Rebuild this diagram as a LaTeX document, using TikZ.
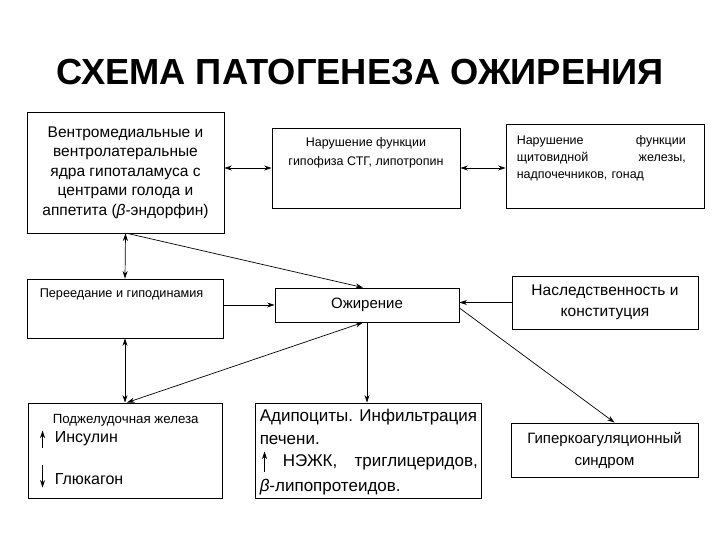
\documentclass[tikz,border=0pt]{standalone}
\usepackage{fontspec}
\setmainfont{Liberation Sans}
\usetikzlibrary{positioning,arrows.meta}

\begin{document}
\begin{tikzpicture}[%
  x=1pt, y=-1pt,
  >={Stealth[length=7.5pt,width=5pt]},
  blok/.style={
    draw,
    line width=0.9pt,
    inner sep=0pt,},
  txt/.style={inner sep=0pt},
  pil/.style={->, line width=0.7pt},
  dpil/.style={<->, line width=0.7pt},
  ]
  \useasboundingbox (0,0) rectangle (720,540);
  %% Title
  \node[txt, font=\bfseries\fontsize{36.3}{42}\selectfont] (titel) at (360,72) {СХЕМА ПАТОГЕНЕЗА ОЖИРЕНИЯ};
  %% Boxes
  \node[blok, minimum width=197pt, minimum height=121pt, align=center,
    font=\fontsize{15.5}{19.5}\selectfont] (hyp) at (125.5,172.5)
    {Вентромедиальные и\\вентролатеральные\\ядра гипоталамуса с\\центрами голода и\\аппетита ({\itshape β}-эндорфин)};
  \node[blok, minimum width=188pt, minimum height=80pt] (gip) at (366,168) {};
  \node[txt, align=center, font=\fontsize{12.5}{18.5}\selectfont, below=10pt of gip.north] (giptxt)
    {Нарушение функции\\гипофиза СТГ, липотропин};
  \node[blok, minimum width=198pt, minimum height=84pt] (shch) at (605,166) {};
  \node[txt, align=left, text width=169pt, font=\fontsize{12.5}{17}\selectfont,
    below right=12pt and 11pt of shch.north west] (shchtxt)
    {Нарушение\hfill функции\\щитовидной\hfill железы,\\надпочечников, гонад};
  \node[blok, minimum width=196pt, minimum height=59pt] (over) at (125,308.5) {};
  \node[txt, font=\fontsize{12.7}{15}\selectfont, below right=10pt and 13pt of over.north west] (overtxt)
    {Переедание и гиподинамия};
  \node[blok, minimum width=184pt, minimum height=34pt, font=\fontsize{15}{18}\selectfont] (obes) at (367,305) {Ожирение};
  \node[blok, minimum width=186pt, minimum height=53pt, align=center,
    font=\fontsize{15.5}{21}\selectfont] (hered) at (605,302.5) {Наследственность и\\конституция};
  \node[blok, minimum width=194pt, minimum height=95pt] (panc) at (125,450.5) {};
  \node[txt, anchor=base west, font=\fontsize{13.3}{15}\selectfont] (panctxt)
    at ([shift={(25,21)}]panc.north west) {Поджелудочная железа};
  \node[txt, anchor=base west, font=\fontsize{16}{19}\selectfont] (ins)
    at ([shift={(27,40)}]panc.north west) {Инсулин};
  \node[txt, anchor=base west, font=\fontsize{16}{19}\selectfont] (glu)
    at ([shift={(27,82)}]panc.north west) {Глюкагон};
  \node[blok, minimum width=226pt, minimum height=95pt] (adip) at (368,450.5) {};
  \node[txt, anchor=base west, font=\fontsize{17}{20}\selectfont] (adip1)
    at ([shift={(5,19)}]adip.north west) {Адипоциты. Инфильтрация};
  \node[txt, anchor=base west, font=\fontsize{17}{20}\selectfont] (adip2)
    at ([shift={(5,42)}]adip.north west) {печени.};
  \node[txt, anchor=base west, align=left, text width=195pt, font=\fontsize{17}{20}\selectfont] (adip3)
    at ([shift={(28,64)}]adip.north west) {НЭЖК,\hfill триглицеридов,};
  \node[txt, anchor=base west, font=\fontsize{17}{20}\selectfont] (adip4)
    at ([shift={(5,89)}]adip.north west) {{\itshape β}-липопротеидов.};
  \node[blok, minimum width=187pt, minimum height=54pt, align=center,
    font=\fontsize{15}{22}\selectfont] (coag) at (604.5,450) {Гиперкоагуляционный\\синдром};
  %% Small arrows in the boxes
  \draw[pil] ([shift={(-12,5)}]ins.base west) -- ([shift={(-12,-12)}]ins.base west);
  \draw[pil] ([shift={(-12,-20)}]glu.base west) -- ([shift={(-12,3)}]glu.base west);
  \draw[pil] ([shift={(-18,5)}]adip3.base west) -- ([shift={(-18,-15)}]adip3.base west);
  %% Edges
  \draw[dpil] (gip.west -| hyp.east) -- (gip.west);
  \draw[dpil] (gip.east) -- (gip.east -| shch.west);
  \draw[dpil] (hyp.south) -- (over.north);
  \draw[pil] ([xshift=2pt]hyp.south) -- ([xshift=-4pt]obes.north);
  \draw[pil] (obes.west -| over.east) -- (obes.west);
  \draw[dpil] (over.south) -- (panc.north);
  \draw[dpil] ([xshift=2pt]panc.north) -- ([xshift=-4pt]obes.south);
  \draw[pil] (obes.south) -- (obes.south |- adip.north);
  \draw[pil] (hered.west) -- (hered.west -| obes.east);
  \draw[pil] ([yshift=-3pt]obes.east) -- ([xshift=10pt]coag.north);
\end{tikzpicture}
\end{document}
